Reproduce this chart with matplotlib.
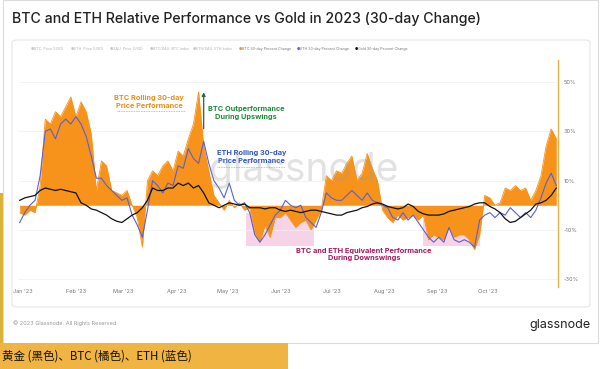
import numpy as np
import pandas as pd
import matplotlib
matplotlib.use("Agg")
import matplotlib.pyplot as plt
from matplotlib.patches import Rectangle, FancyBboxPatch

plt.rcParams['font.family'] = ['Inter', 'Noto Sans CJK SC', 'DejaVu Sans']

# 30-day % change, sampled every 3 days starting 2022-12-30
dates = pd.date_range("2022-12-30", periods=106, freq="3D")

btc = [-3, -4, -2, -3, 8, 35, 33, 38, 36, 40, 44, 36, 42, 38, 29, 6, 18, 16, 6, 5,
       4, 6, 0, -5, -17, 10, 14, 12, 16, 18, 14, 22, 20, 27, 33, 46, 24, 14, 4, 1,
       -2, 2, -1, 1, -2, -1, -11, -15, -8, -13, -5, -5, -3, -6, -9, -7, -6, -10, -6, -2,
       12, 10, 14, 13, 17, 20, 10, 13, 21, 15, 10, -2, -5, -7, -4, -6, -5, -4, -6, -4,
       -14, -12, -13, -14, -9, -13, -12, -12, -14, -18, -12, 4, 3, 0, 1, 7, 6, 8, 6, 7,
       2, 6, 12, 24, 31, 27]

eth = [-7, -3, 0, 2, 12, 30, 31, 27, 33, 35, 33, 36, 33, 28, 20, 11, 11, 8, 6, 4,
       2, 3, -4, -8, -13, -2, 10, 8, 5, 9, 8, 16, 15, 23, 19, 17, 26, 17, 10, 7,
       3, 9, 2, 0, 1, -3, -12, -15, -12, -8, -4, -2, 2, 0, -1, 0, -5, -7, -9, -3,
       5, 3, 2, 2, 4, 6, 4, 2, 5, 2, 1, 0, -1, -5, -6, -3, -6, -4, -7, -10,
       -13, -15, -13, -15, -9, -14, -15, -14, -15, -17, -6, -4, -3, -5, -3, -4, -1, -3, -5, -3,
       -5, -2, 3, 9, 13, 8]

gold = [2, 3, 3.5, 4, 6, 7, 6.5, 6, 6.5, 6, 5.5, 5, 1, 0, -1.5, -2, -3, -4, -5.5, -6.5,
        -7, -5.5, -4, -3, -1, 2, 7, 6, 6, 7, 7, 9, 8, 9, 7, 8, 5, 1, 0, -1,
        0, 1, 0.5, 0, 0.5, -1, -1, -1, -1.5, -1, -1, -2, -2.5, -2, -2.5, -3, -2.5, -2, -2, -2.5,
        -3, -3.5, -4, -4, -3, -2.5, -2, -1, -0.5, 0.5, 1, 0.5, -0.5, -1, -1.5, -1, 0.5, -0.5, -2.5, -3.5,
        -4, -4, -4, -3.5, -2.5, -2, -1.5, -1, -0.5, 0.5, 1, 1, -0.5, -1.5, -3, -5.5, -7, -6.5, -5, -3.5,
        -2, 0.5, 1, 2, 4, 7]

yticks = [50, 30, 10, -10, -30]
months = pd.date_range("2023-01-01", "2023-10-01", freq="MS")

W, H = 600, 369
fig = plt.figure(figsize=(W / 100, H / 100), dpi=100)
fig.patch.set_facecolor("white")


def fx(x):
    return x / W


def fy(y):
    return 1 - y / H


# outer frame / panel
fig.add_artist(Rectangle((fx(3), fy(343)), fx(595), 343 / H, transform=fig.transFigure,
                         fill=False, ec="#dcdcdc", lw=0.8))
fig.add_artist(Rectangle((0, fy(343)), fx(2.5), 150 / H, transform=fig.transFigure,
                         fc="#d9b23a", ec="none"))
fig.add_artist(FancyBboxPatch((fx(12), fy(307)), fx(578), 267 / H, transform=fig.transFigure,
                              boxstyle="round,pad=0,rounding_size=0.008", fill=False,
                              ec="#e6e6e6", lw=0.8))

fig.text(fx(12), fy(19), "BTC and ETH Relative Performance vs Gold in 2023 (30-day Change)",
         fontsize=10.2, color="#222222", va="center", ha="left", fontweight="medium")

# legend row
legend_items = [("BTC: Price (USD)", "#c8c8c8", True), ("ETH: Price (USD)", "#c8c8c8", True),
                ("XAU: Price (USD)", "#c8c8c8", True), ("BTC/XAU: BTC Index", "#c8c8c8", True),
                ("ETH/XAU: ETH Index", "#c8c8c8", True), ("BTC 30-day Percent Change", "#f7931a", False),
                ("ETH 30-day Percent Change", "#5a5fd6", False), ("Gold 30-day Percent Change", "#111111", False)]
legend_x = [31, 71, 110, 150, 193, 239, 297, 355]
for (lab, col, off), lx in zip(legend_items, legend_x):
    fig.text(fx(lx), fy(49), "\u25CF", fontsize=2.6, color=col, va="center", ha="left",
             family=['DejaVu Sans'])
    fig.text(fx(lx + 3.2), fy(49), lab, fontsize=2.6,
             color="#b0b0b0" if off else "#777777", va="center", ha="left")

ax = fig.add_axes([fx(18), fy(286.5), fx(540), 226.5 / H])
ax.set_facecolor("none")

# pink downswing boxes
for a, b in [("2023-05-12", "2023-06-21"), ("2023-08-24", "2023-09-26")]:
    ax.axvspan(pd.Timestamp(a), pd.Timestamp(b), ymin=(-16.5 + 33) / 92, ymax=(-3 + 33) / 92,
               color="#f6d3e6", lw=0, zorder=0)

for v in yticks:
    ax.axhline(v, color="#f0f0f0", lw=0.5, zorder=0)

btc_a = np.array(btc, dtype=float)
ax.fill_between(dates, 0, btc_a, color="#f7931a", lw=0, zorder=1)
ax.plot(dates, btc_a, color="#f7931a", lw=0.6, zorder=1)
ax.plot(dates, eth, color="#5a5fd6", lw=0.8, zorder=2)
ax.plot(dates, gold, color="#111111", lw=0.9, zorder=3)

ax.set_ylim(-33, 59)
ax.set_xlim(pd.Timestamp("2022-12-29"), pd.Timestamp("2023-11-11"))
for s in ax.spines.values():
    s.set_visible(False)
ax.spines["right"].set_visible(True)
ax.spines["right"].set_color("#e2b34c")
ax.spines["right"].set_linewidth(1.0)
ax.yaxis.tick_right()
ax.set_yticks(yticks)
ax.set_yticklabels([f"{v}%" for v in yticks])
ax.tick_params(axis="y", length=0, labelsize=4, colors="#777777", pad=4)
ax.set_xticks(months)
ax.set_xticklabels([d.strftime("%b '%y") for d in months])
ax.tick_params(axis="x", length=0, labelsize=4, colors="#777777", pad=2)

# annotations
ax.text(pd.Timestamp("2023-03-16"), 42, "BTC Rolling 30-day\nPrice Performance", color="#e8901b",
        fontsize=5.3, fontweight="bold", ha="center", va="center", linespacing=1.3)
ax.plot([pd.Timestamp("2023-02-25"), pd.Timestamp("2023-04-06")], [38.2, 38.2], color="#aaaaaa",
        lw=0.6, ls=(0, (1, 1)))
ax.annotate("", xy=(pd.Timestamp("2023-04-17"), 47), xytext=(pd.Timestamp("2023-04-17"), 30),
            arrowprops=dict(arrowstyle="-|>", color="#2f5d50", lw=0.9, mutation_scale=5))
ax.text(pd.Timestamp("2023-05-12"), 37.5, "BTC Outperformance\nDuring Upswings", color="#1e8a3a",
        fontsize=5.3, fontweight="bold", ha="center", va="center", linespacing=1.3)
ax.text(pd.Timestamp("2023-05-15"), 19.5, "ETH Rolling 30-day\nPrice Performance", color="#2d55c8",
        fontsize=5.3, fontweight="bold", ha="center", va="center", linespacing=1.3)
ax.plot([pd.Timestamp("2023-04-25"), pd.Timestamp("2023-06-04")], [15.6, 15.6], color="#aaaaaa",
        lw=0.6, ls=(0, (1, 1)))
ax.text(pd.Timestamp("2023-07-20"), -20, "BTC and ETH Equivalent Performance\nDuring Downswings",
        color="#a3195b", fontsize=5.3, fontweight="bold", ha="center", va="center", linespacing=1.3)
ax.text(pd.Timestamp("2023-06-15"), 14, "glassnode", color="#9a9a9a", alpha=0.28, fontsize=28,
        ha="center", va="center", zorder=5)

# footer
fig.text(fx(13), fy(323), "\u00a9 2023 Glassnode. All Rights Reserved.", fontsize=4,
         color="#999999", va="center", ha="left")
fig.text(fx(590), fy(325), "glassnode", fontsize=9, color="#222222", va="center", ha="right")

fig.add_artist(Rectangle((0, 0), fx(288), 26 / H, transform=fig.transFigure,
                         fc="#f0b443", ec="none"))
fig.text(fx(2), fy(356), "黄金 (黑色)、BTC (橘色)、ETH (蓝色)", fontsize=8.3, color="#111111",
         va="center", ha="left", family=['Noto Sans CJK SC', 'DejaVu Sans'])

fig.savefig("out.png", dpi=100)
